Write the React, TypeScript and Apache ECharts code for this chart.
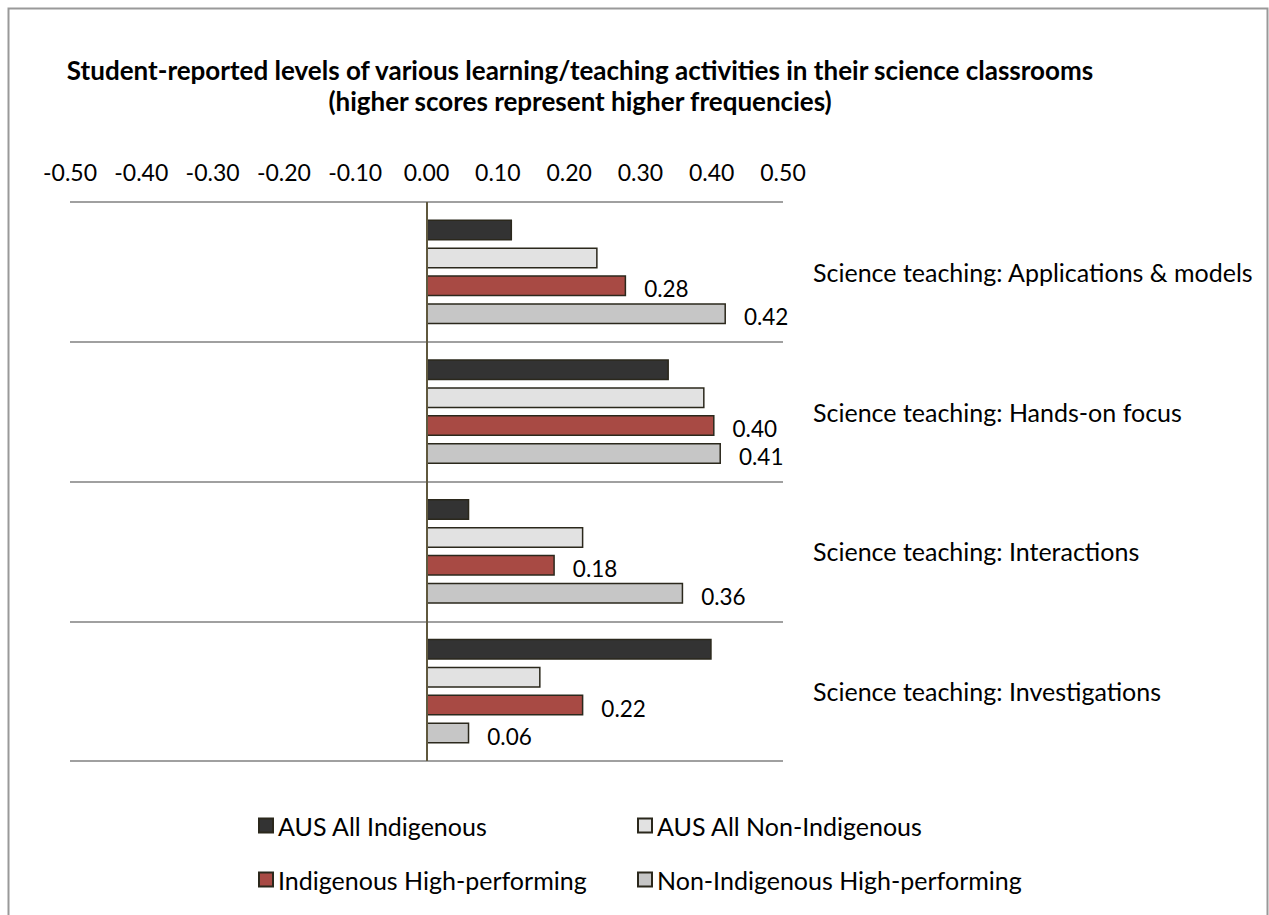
import React, { useEffect, useRef } from "react";
import * as echarts from "echarts";

const categories = [
  "Science teaching: Applications & models",
  "Science teaching: Hands-on focus",
  "Science teaching: Interactions",
  "Science teaching: Investigations",
];
const seriesNames = [
  "AUS All Indigenous",
  "AUS All Non-Indigenous",
  "Indigenous High-performing",
  "Non-Indigenous High-performing",
];
const ausIndigenous = [0.12, 0.34, 0.06, 0.4];
const ausNonIndigenous = [0.24, 0.39, 0.22, 0.16];
const indigenousHP = [0.28, 0.404, 0.18, 0.22];
const nonIndigenousHP = [0.42, 0.413, 0.36, 0.06];
const seriesValues = [ausIndigenous, ausNonIndigenous, indigenousHP, nonIndigenousHP];
const colors = ["#333333", "#e2e2e2", "#a84a44", "#c6c6c6"];
const showLabels = [false, false, true, true];
const titleLines = [
  "Student-reported levels of various learning/teaching activities in their science classrooms",
  "(higher scores represent higher frequencies)",
];

const FONT = "Lato, 'Open Sans', sans-serif";

export default function App() {
  const ref = useRef<HTMLDivElement>(null);
  useEffect(() => {
    document.body.style.margin = "0";
    document.body.style.overflow = "hidden";
    const chart = echarts.init(ref.current!, null, { renderer: "svg" });
    const legendPos = [
      { left: 253, top: 808 },
      { left: 632, top: 808 },
      { left: 253, top: 862 },
      { left: 632, top: 862 },
    ];
    chart.setOption({
      animation: false,
      backgroundColor: "#ffffff",
      title: {
        text: titleLines.join("\n"),
        left: 575,
        textAlign: "center",
        top: 49,
        textStyle: {
          fontFamily: FONT,
          fontWeight: "bold",
          fontSize: 26,
          lineHeight: 31,
          color: "#000",
        },
      },
      graphic: [
        {
          type: "rect",
          shape: { x: 8.5, y: 8.5, width: 1259, height: 940 },
          style: { fill: "none", stroke: "#999999", lineWidth: 2 },
          silent: true,
        },
      ],
      legend: seriesNames.map((n, i) => ({
        data: [n],
        left: legendPos[i].left,
        top: legendPos[i].top,
        itemWidth: 14,
        itemHeight: 14,
        itemGap: 4,
        icon: "rect",
        selectedMode: false,
        textStyle: { fontFamily: FONT, fontSize: 25, color: "#000" },
      })),
      grid: { left: 70, right: 1269 - 783, top: 202, bottom: 915 - 761, containLabel: false },
      xAxis: {
        type: "value",
        position: "top",
        min: -0.5,
        max: 0.5,
        interval: 0.1,
        axisLine: { show: false },
        axisTick: { show: false },
        splitLine: { show: false },
        axisLabel: {
          margin: 19,
          fontFamily: FONT,
          fontSize: 23,
          color: "#000",
          formatter: (v: number) => v.toFixed(2),
        },
      },
      yAxis: {
        type: "category",
        data: categories,
        inverse: true,
        position: "right",
        axisLine: { show: false },
        axisTick: { show: false },
        splitLine: { show: true, lineStyle: { color: "#a0a0a0", width: 2 } },
        axisLabel: { margin: 30, fontFamily: FONT, fontSize: 25, color: "#000" },
      },
      series: seriesValues.map((vals, i) => ({
        name: seriesNames[i],
        type: "bar",
        data: vals,
        barWidth: 21,
        barGap: "33%",
        itemStyle: { color: colors[i], borderColor: "#2b281c", borderWidth: 1.5 },
        label: {
          show: showLabels[i],
          position: "right",
          distance: 18,
          offset: [0, 3],
          fontFamily: FONT,
          fontSize: 22.5,
          color: "#000",
          formatter: (p: any) => p.value.toFixed(2),
        },
        markLine:
          i === 0
            ? {
                silent: true,
                symbol: "none",
                label: { show: false },
                lineStyle: { color: "#5f583e", width: 2, type: "solid" },
                data: [{ xAxis: 0 }],
              }
            : undefined,
      })),
    });
    return () => chart.dispose();
  }, []);
  return <div ref={ref} style={{ width: 1269, height: 915 }} />;
}
